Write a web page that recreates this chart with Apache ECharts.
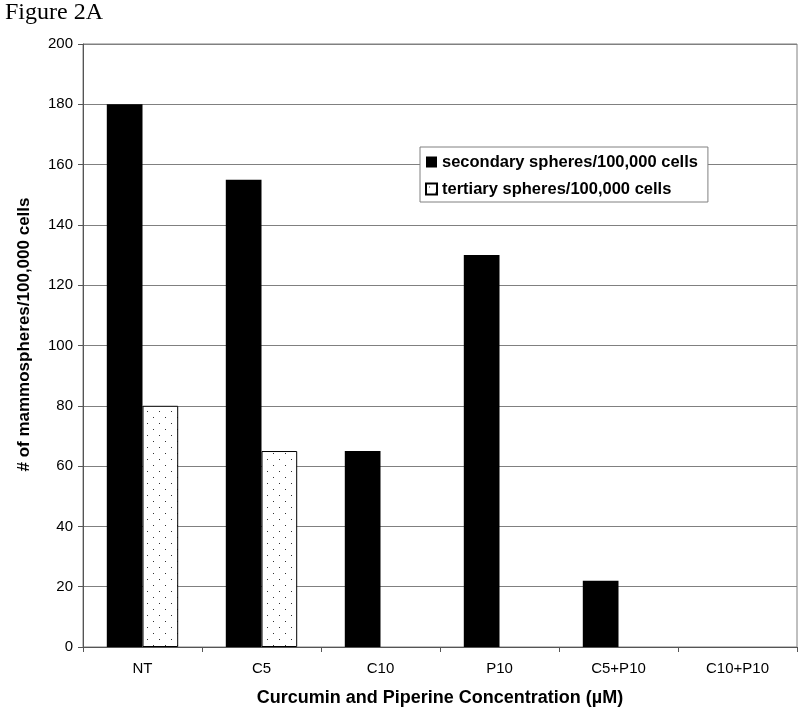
<!DOCTYPE html>
<html>
<head>
<meta charset="utf-8">
<script src="https://cdn.jsdelivr.net/npm/echarts@6/dist/echarts.min.js"></script>
<style>
  html, body { margin: 0; padding: 0; background: #fff; }
  #chart { width: 800px; height: 709px; }
</style>
</head>
<body>
<div id="chart"></div>
<script>
// chart data
const categories = ['NT', 'C5', 'C10', 'P10', 'C5+P10', 'C10+P10'];
const secondary = [180, 155, 65, 130, 22, 0];
const tertiary = [80, 65, 0, 0, 0, 0];
const yTicks = { min: 0, max: 200, interval: 20 };

// dotted fill like the original print pattern
const dots = document.createElement('canvas');
dots.width = 12;
dots.height = 12;
const ctx = dots.getContext('2d');
ctx.fillStyle = '#fff';
ctx.fillRect(0, 0, 12, 12);
ctx.fillStyle = '#333';
ctx.fillRect(3, 3, 1, 1);
ctx.fillRect(9, 9, 1, 1);

const chart = echarts.init(document.getElementById('chart'));
const font = 'Liberation Sans, Arial, sans-serif';

// zero bars are not drawn in the original (no outline either)
const hideZero = arr => arr.map(v => ({ value: v, itemStyle: v ? {} : { borderWidth: 0 } }));

chart.setOption({
  animation: false,
  title: {
    text: 'Figure 2A',
    left: 0,
    top: -4,
    textStyle: { fontFamily: 'Liberation Serif, Times New Roman, serif', fontWeight: 'normal', fontSize: 24, color: '#000' }
  },
  grid: {
    left: 83, right: 3, top: 44, bottom: 62,
    outerBoundsMode: 'none',
    show: true, borderColor: '#808080', borderWidth: 1
  },
  legend: {
    orient: 'vertical',
    left: 420,
    top: 147,
    padding: [6, 10, 4, 5],
    itemGap: 9,
    itemWidth: 11,
    itemHeight: 11,
    borderColor: '#808080',
    borderWidth: 1,
    backgroundColor: '#fff',
    textStyle: { fontFamily: font, fontWeight: 'bold', fontSize: 16.5, lineHeight: 18, color: '#000' },
    data: [
      { name: 'secondary spheres/100,000 cells', icon: 'rect' },
      { name: 'tertiary spheres/100,000 cells', icon: 'rect' }
    ]
  },
  xAxis: {
    type: 'category',
    data: categories,
    name: 'Curcumin and Piperine Concentration (\u00b5M)',
    nameLocation: 'middle',
    nameGap: 42,
    nameTextStyle: { fontFamily: font, fontWeight: 'bold', fontSize: 18, color: '#000' },
    axisLine: { lineStyle: { color: '#555', width: 1 } },
    axisTick: { show: true, alignWithLabel: false, length: 5, lineStyle: { color: '#555' } },
    axisLabel: { fontFamily: font, fontSize: 15, color: '#000', margin: 14 }
  },
  yAxis: {
    type: 'value',
    min: yTicks.min,
    max: yTicks.max,
    interval: yTicks.interval,
    name: '# of mammospheres/100,000 cells',
    nameLocation: 'middle',
    nameGap: 50,
    nameTextStyle: { fontFamily: font, fontWeight: 'bold', fontSize: 17, color: '#000', padding: [0, 0, 0, 22] },
    axisLine: { show: true, lineStyle: { color: '#555', width: 1 } },
    axisTick: { show: true, length: 5, lineStyle: { color: '#555' } },
    axisLabel: { fontFamily: font, fontSize: 15, color: '#000', margin: 10 },
    splitLine: { lineStyle: { color: '#808080', width: 1 } }
  },
  series: [
    {
      name: 'secondary spheres/100,000 cells',
      type: 'bar',
      data: secondary,
      barGap: '0%',
      barCategoryGap: '40%',
      itemStyle: { color: '#000' }
    },
    {
      name: 'tertiary spheres/100,000 cells',
      type: 'bar',
      data: hideZero(tertiary),
      itemStyle: { color: { image: dots, repeat: 'repeat' }, borderColor: '#000', borderWidth: 1 }
    }
  ]
});
</script>
</body>
</html>
